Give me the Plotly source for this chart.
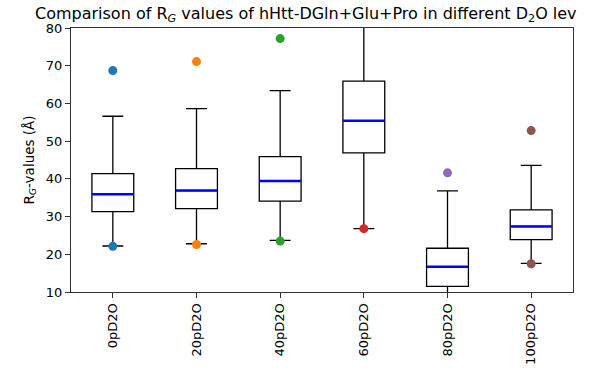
import plotly.graph_objects as go

# Radius-of-gyration summary statistics per D2O level
categories = ["0pD2O", "20pD2O", "40pD2O", "60pD2O", "80pD2O", "100pD2O"]
q1_vals = [31.3, 32.1, 34.1, 46.9, 11.5, 23.9]
median_vals = [35.9, 36.9, 39.4, 55.4, 16.7, 27.4]
q3_vals = [41.4, 42.7, 45.9, 65.9, 21.6, 31.8]
lower_whisker = [22.2, 22.8, 23.7, 26.8, 7.0, 17.6]
upper_whisker = [56.6, 58.6, 63.4, 92.0, 36.8, 43.6]
min_vals = [22.1, 22.6, 23.5, 26.8, 6.8, 17.5]
max_vals = [68.7, 71.1, 77.2, 98.0, 41.6, 52.8]
colors = ["#1f77b4", "#ff7f0e", "#2ca02c", "#d62728", "#9467bd", "#8c564b"]

positions = list(range(1, len(categories) + 1))
box_width = 0.5

fig = go.Figure()

fig.add_trace(go.Box(
    x=positions,
    q1=q1_vals,
    median=median_vals,
    q3=q3_vals,
    lowerfence=lower_whisker,
    upperfence=upper_whisker,
    width=box_width,
    whiskerwidth=0.5,
    fillcolor="white",
    line=dict(color="black", width=1.3),
    boxpoints=False,
    hoverinfo="skip",
    showlegend=False,
))

# Blue median lines drawn over the boxes
mx, my = [], []
for p, m in zip(positions, median_vals):
    mx += [p - box_width / 2, p + box_width / 2, None]
    my += [m, m, None]
fig.add_trace(go.Scatter(x=mx, y=my, mode="lines",
                         line=dict(color="blue", width=2.5),
                         showlegend=False, hoverinfo="skip"))

# Min / max markers for each level
for p, lo, hi, c in zip(positions, min_vals, max_vals, colors):
    fig.add_trace(go.Scatter(x=[p, p], y=[lo, hi], mode="markers",
                             marker=dict(color=c, size=9),
                             showlegend=False))

font = dict(family="DejaVu Sans", size=13, color="black")

fig.update_layout(
    width=605, height=368,
    margin=dict(l=71, r=32, t=28, b=76),
    plot_bgcolor="white",
    paper_bgcolor="white",
    font=font,
    title=dict(
        text="Comparison of R<sub><i>G</i></sub> values of hHtt-DGln+Glu+Pro in different D<sub>2</sub>O lev",
        x=35 / 605, xanchor="left", xref="container",
        y=1 - 13 / 368, yanchor="middle", yref="container",
        pad=dict(l=0, r=0, t=0, b=0),
        font=dict(family="DejaVu Sans", size=16, color="black"),
    ),
)

fig.update_xaxes(
    range=[0.5, 6.5],
    tickvals=positions, ticktext=categories,
    tickangle=-90,
    showline=True, mirror=True, linecolor="#333333", linewidth=1.2,
    ticks="outside", ticklen=5, tickcolor="#333333",
    showgrid=False, zeroline=False, automargin=False,
)
fig.update_yaxes(
    range=[10, 80], dtick=10,
    showline=True, mirror=True, linecolor="#333333", linewidth=1.2,
    ticks="outside", ticklen=5, tickcolor="#333333",
    showgrid=False, zeroline=False, automargin=False,
    title=dict(text="R<sub><i>G</i></sub>-values (Å)", standoff=8,
               font=dict(family="DejaVu Sans", size=13.5, color="black")),
)

fig.write_html("out.html")
